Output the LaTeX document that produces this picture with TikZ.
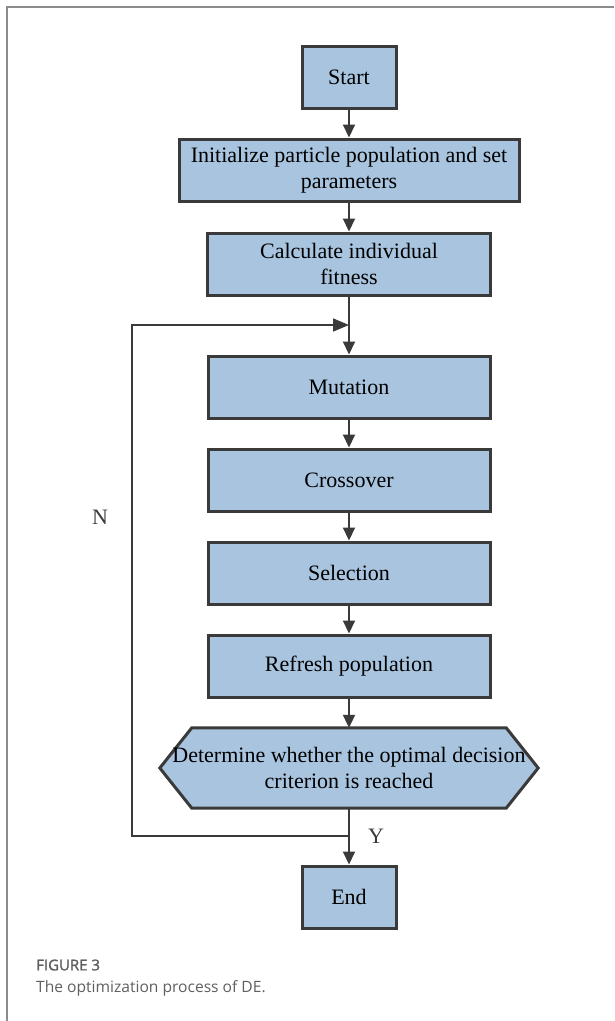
\documentclass[tikz,border=0pt]{standalone}
\usepackage{fontspec}
\setmainfont{Liberation Serif}
\newfontfamily\capfont{Open Sans}
\newfontfamily\capboldfont[FakeBold=1.5]{Open Sans}
\usepackage{tikz}
\usepackage{xcolor}
\usetikzlibrary{arrows.meta,backgrounds}
\definecolor{DEBlue}{HTML}{A8C4DF}
\definecolor{DEEdge}{HTML}{3A3A3A}
\definecolor{DEFrame}{HTML}{8C8C8C}
\definecolor{DECaption}{HTML}{5F5F5F}

\begin{document}
\begin{tikzpicture}[
    x=1pt,y=-1pt,font=\fontsize{22}{26}\selectfont,
    box/.style={draw=DEEdge,line width=3pt,fill=DEBlue,
      minimum height=62pt,minimum width=282pt,align=center,inner sep=2pt},
    smallbox/.style={box,minimum width=94pt},
    judge/.style={minimum height=80pt,minimum width=378pt,align=center,inner sep=0pt},
    hexline/.style={draw=DEEdge,line width=3pt,fill=DEBlue,line join=miter},
    arrow/.style={-{Triangle[length=13pt,width=12pt]},line width=2pt,draw=DEEdge},
    loop/.style={-{Triangle[length=16pt,width=13pt]},line width=1.6pt,draw=DEEdge},
    lbl/.style={text=DEEdge}
  ]
    \useasboundingbox (0,0) rectangle (614,1021);
    \draw[DEFrame,line width=1.3pt] (7,1021) -- (7,7) -- (614,7);

    \node[smallbox] (start) at (349,77) {Start};
    \node[box,minimum width=340pt] (init) at (349,170) {Initialize particle population and set\\parameters};
    \node[box,minimum width=283pt] (calc) at (349,264) {Calculate individual\\fitness};
    \node[box] (mutation) at (349,387) {Mutation};
    \node[box] (crossover) at (349,480) {Crossover};
    \node[box] (selection) at (349,573) {Selection};
    \node[box] (refresh) at (349,666) {Refresh population};
    \node[judge] (check) at (349,768) {Determine whether the optimal decision\\criterion is reached};
    \begin{scope}[on background layer]
      \path[hexline] ([xshift=32pt]check.north west) -- ([xshift=-32pt]check.north east)
        -- (check.east) -- ([xshift=-32pt]check.south east)
        -- ([xshift=32pt]check.south west) -- (check.west) -- cycle;
    \end{scope}
    \node[smallbox] (finish) at (349,897) {End};

    \coordinate (join) at (349,325);
    \coordinate (branch) at (349,836);
    \node[lbl] (no) at (100,517) {N};
    \node[lbl] (yes) at (376,836) {Y};

    \draw[arrow] (start) -- (init);
    \draw[arrow] (init) -- (calc);
    \draw[arrow] (calc) -- (mutation);
    \draw[arrow] (mutation) -- (crossover);
    \draw[arrow] (crossover) -- (selection);
    \draw[arrow] (selection) -- (refresh);
    \draw[arrow] (refresh) -- (check);
    \draw[arrow] (check) -- (finish);
    \draw[loop] (branch) -| (132,325) -- (join);

    \node[anchor=west,inner sep=0pt,text=DECaption,font=\capboldfont\fontsize{15}{18}\selectfont] (figno) at (36,965) {FIGURE 3};
    \node[anchor=west,inner sep=0pt,text=DECaption,font=\capfont\fontsize{15.6}{19}\selectfont] (figcap) at (36,988) {The optimization process of DE.};
\end{tikzpicture}
\end{document}
